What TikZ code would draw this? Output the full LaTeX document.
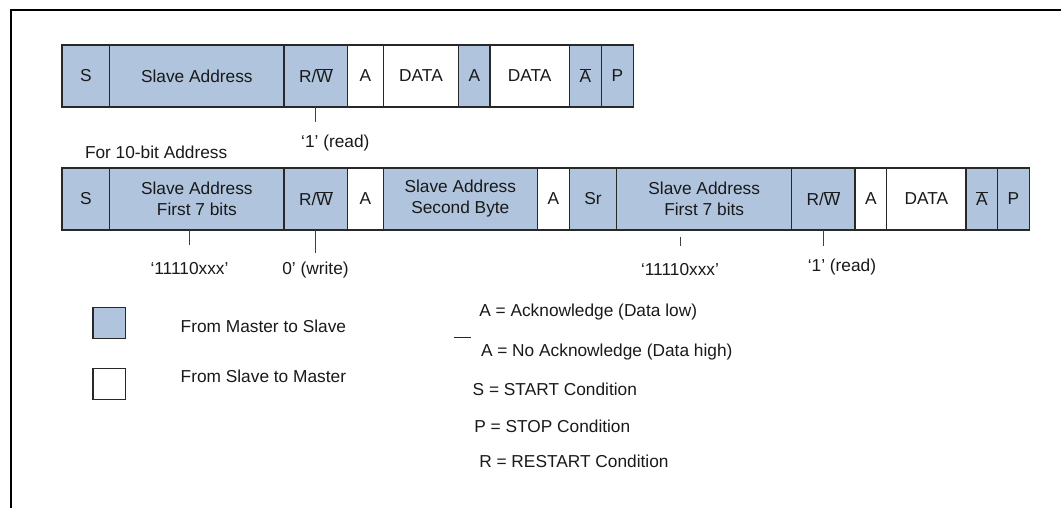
\documentclass[tikz,border=0pt]{standalone}
\usepackage{fontspec}
\setmainfont{Liberation Sans}
\definecolor{mblue}{RGB}{176,196,222}
\definecolor{edgec}{RGB}{40,40,40}
\newcommand{\rwbar}{R/$\overline{\mbox{W}}$}
\newcommand{\nack}{$\overline{\mbox{A}}$}
\begin{document}
\begin{tikzpicture}[x=1pt,y=-1pt,
  every node/.style={font=\fontsize{17.3}{21}\selectfont, text=black!90, inner sep=0pt, outer sep=0pt},
  cell/.style={draw=edgec, line width=1.3pt, minimum height=62pt, anchor=west, align=center},
  mts/.style={cell, fill=mblue},
  stm/.style={cell, fill=white},
  tickline/.style={draw=black!75, line width=1pt},
  lbl/.style={anchor=base},
  lgd/.style={anchor=base west},
  keybox/.style={draw=edgec, line width=1.1pt, minimum width=32.7pt, minimum height=31pt, anchor=north west},
  ]
\useasboundingbox (0,0) rectangle (1061,508);
% frame
\draw[line width=1.7pt, black] (1061,10) -- (10.8,10) -- (10.8,508);

% top row (7-bit address)
\node[mts, minimum width=47.7] (s1) at (62,76) {S};
\node[mts, minimum width=174.3] (sa1) at (109.7,76) {Slave Address};
\node[mts, minimum width=63.7] (rw1) at (284,76) {\rwbar};
\node[stm, minimum width=35.6] (a1) at (347.7,76) {A};
\node[stm, minimum width=75.4] (d1) at (383.3,76) {DATA};
\node[mts, minimum width=31.3] (a2) at (458.7,76) {A};
\node[stm, minimum width=79.3] (d2) at (490,76) {DATA};
\node[mts, minimum width=32] (na1) at (569.3,76) {\nack};
\node[mts, minimum width=32] (p1) at (601.3,76) {P};

\node[lbl] (rd1) at (335.3,147.9) {‘1’ (read)};
\draw[tickline] (rw1.south) -- ++(0,15.3);

\node[lgd] (for10) at (85,158.9) {For 10-bit Address};

% second row (10-bit address)
\node[mts, minimum width=47.7] (s2) at (62,199) {S};
\node[mts, minimum width=174.3] (sa2) at (109.7,199) {Slave Address\\First 7 bits};
\node[mts, minimum width=63.7] (rw2) at (284,199) {\rwbar};
\node[stm, minimum width=35.6] (a3) at (347.7,199) {A};
\node[mts, minimum width=154] (sb2) at (383.3,199) {Slave Address\\Second Byte};
\node[stm, minimum width=32] (a4) at (537.3,199) {A};
\node[mts, minimum width=47.4] (sr2) at (569.3,199) {Sr};
\node[mts, minimum width=175] (sa3) at (616.7,199) {Slave Address\\First 7 bits};
\node[mts, minimum width=63.3] (rw3) at (791.7,199) {\rwbar};
\node[stm, minimum width=31.7] (a5) at (855,199) {A};
\node[stm, minimum width=79.3] (d3) at (886.7,199) {DATA};
\node[mts, minimum width=31.7] (na2) at (966,199) {\nack};
\node[mts, minimum width=31.6] (p2) at (997.7,199) {P};

\node[lbl] (l1) at (189.5,274.2) {‘11110xxx’};
\node[lbl] (l2) at (315.5,274.5) {0’ (write)};
\node[lbl] (l3) at (680,275.5) {‘11110xxx’};
\node[lbl] (l4) at (842,271) {‘1’ (read)};

\draw[tickline] (sa2.south -| l1) -- ++(0,15);
\draw[tickline] (rw2.south) -- ++(0,23.3);
\coordinate (t3) at (680,236.7);
\draw[tickline] (t3) -- ++(0,9.3);
\draw[tickline] (rw3.south) -- ++(0,16);

% legend
\node[keybox, fill=mblue] (kmts) at (93,307.3) {};
\node[keybox, fill=white] (kstm) at (93,368.3) {};
\node[lgd] (tmts) at (180.7,332.2) {From Master to Slave};
\node[lgd] (tstm) at (180.7,382.9) {From Slave to Master};

\node[lgd] (kack) at (479.3,316.9) {A = Acknowledge (Data low)};
\draw[line width=1pt, black!85] (454,337.3) -- (471,337.3);
\node[lgd] (knack) at (481,356.2) {A = No Acknowledge (Data high)};
\node[lgd] (kstart) at (472.7,395.5) {S = START Condition};
\node[lgd] (kstop) at (474.3,432.9) {P = STOP Condition};
\node[lgd] (kre) at (479.3,467.9) {R = RESTART Condition};
\end{tikzpicture}
\end{document}
